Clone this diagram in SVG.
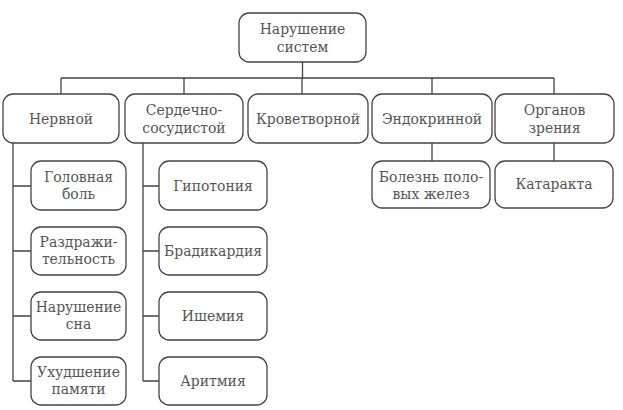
<svg xmlns="http://www.w3.org/2000/svg" width="623" height="410" viewBox="0 0 623 410">
<style>
.box{fill:#ffffff;stroke:#444;stroke-width:1.3}
text{font-family:"DejaVu Serif Condensed","DejaVu Serif",serif;font-stretch:condensed;font-size:15.5px;fill:#555;text-anchor:middle}
.c{fill:none;stroke:#444;stroke-width:1.3}
</style>
<rect width="623" height="410" fill="#ffffff"/>
<g id="connectors" class="c">
<path d="M302.5 62V78M61 78H554M61 78V94M184 78V94M302 78V94M432 78V94M554 78V94"/>
<path d="M13 143V381M13 186H31M13 251H31M13 316H31M13 381H31"/>
<path d="M143 143V381M143 186H159M143 251H159M143 316H159M143 381H159"/>
<path d="M432 143V161M554 143V161"/>
</g>
<g id="n-root"><rect class="box" x="239" y="13" width="127" height="49" rx="10"/><text x="302.5" y="34">Нарушение</text><text x="302.5" y="52">систем</text></g>
<g id="n-nerv"><rect class="box" x="3" y="94" width="116" height="49" rx="10"/><text x="61" y="124">Нервной</text></g>
<g id="n-cardio"><rect class="box" x="125" y="94" width="118" height="49" rx="10"/><text x="184" y="115">Сердечно-</text><text x="184" y="133">сосудистой</text></g>
<g id="n-blood"><rect class="box" x="248" y="94" width="120" height="49" rx="10"/><text x="308" y="124">Кроветворной</text></g>
<g id="n-endo"><rect class="box" x="372" y="94" width="120" height="49" rx="10"/><text x="432" y="124">Эндокринной</text></g>
<g id="n-eye"><rect class="box" x="495" y="94" width="119" height="49" rx="10"/><text x="554.5" y="115">Органов</text><text x="554.5" y="133">зрения</text></g>
<g id="n-head"><rect class="box" x="31" y="161" width="95" height="49" rx="10"/><text x="78.5" y="182">Головная</text><text x="78.5" y="199">боль</text></g>
<g id="n-irrit"><rect class="box" x="31" y="227" width="95" height="48" rx="10"/><text x="78.5" y="247">Раздражи-</text><text x="78.5" y="264">тельность</text></g>
<g id="n-sleep"><rect class="box" x="31" y="292" width="95" height="48" rx="10"/><text x="78.5" y="312">Нарушение</text><text x="78.5" y="329">сна</text></g>
<g id="n-memory"><rect class="box" x="31" y="357" width="95" height="48" rx="10"/><text x="78.5" y="377">Ухудшение</text><text x="78.5" y="394">памяти</text></g>
<g id="n-hypo"><rect class="box" x="159" y="161" width="108" height="49" rx="10"/><text x="213" y="191">Гипотония</text></g>
<g id="n-brady"><rect class="box" x="159" y="227" width="108" height="48" rx="10"/><text x="213" y="256">Брадикардия</text></g>
<g id="n-isch"><rect class="box" x="159" y="292" width="108" height="48" rx="10"/><text x="213" y="321">Ишемия</text></g>
<g id="n-arr"><rect class="box" x="159" y="357" width="108" height="48" rx="10"/><text x="213" y="386">Аритмия</text></g>
<g id="n-gonad"><rect class="box" x="372" y="161" width="118" height="47" rx="10"/><text x="431" y="182">Болезнь поло-</text><text x="431" y="199">вых желез</text></g>
<g id="n-cat"><rect class="box" x="495" y="161" width="118" height="47" rx="10"/><text x="554" y="189">Катаракта</text></g>
</svg>
